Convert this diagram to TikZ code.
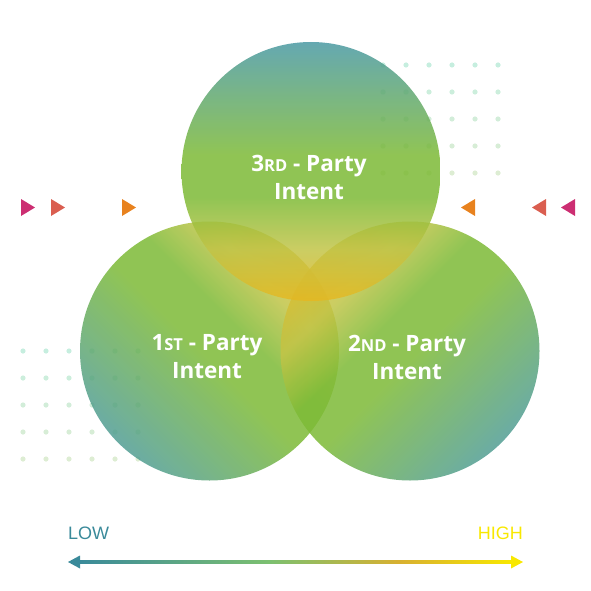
\documentclass[tikz,border=0pt]{standalone}
\usepackage{fontspec}
\setmainfont{Open Sans}
\newfontfamily\axisfont{Liberation Sans}
\definecolor{cteal}{rgb}{0.29,0.60,0.64}
\definecolor{cgreen}{rgb}{0.49,0.73,0.21}
\definecolor{cyel}{rgb}{0.76,0.77,0.28}
\definecolor{cgold}{rgb}{0.90,0.72,0.13}
\definecolor{dotA}{HTML}{C6EEDF}
\definecolor{dotB}{HTML}{DDEDD3}
\definecolor{tmag}{HTML}{CC2E72}
\definecolor{tcor}{HTML}{DA5E50}
\definecolor{torg}{HTML}{E8821E}
\definecolor{alow}{HTML}{3A8A9A}
\definecolor{agreen}{HTML}{7CC070}
\definecolor{agold}{HTML}{D8B030}
\definecolor{ahigh}{HTML}{F8E800}
\pgfdeclareverticalshading{topcirc}{100bp}{color(0bp)=(cgold); color(25bp)=(cgold); color(35bp)=(cyel); color(45bp)=(cgreen); color(53bp)=(cgreen); color(75bp)=(cteal); color(100bp)=(cteal)}
\pgfdeclareverticalshading{sidecirc}{100bp}{color(0bp)=(cteal); color(21bp)=(cteal); color(49bp)=(cgreen); color(57bp)=(cgreen); color(67bp)=(cyel); color(80bp)=(cgold); color(100bp)=(cgold)}
\pgfdeclarehorizontalshading{arrowsh}{100bp}{color(0bp)=(alow); color(25bp)=(alow); color(47bp)=(agreen); color(62bp)=(agold); color(75bp)=(ahigh); color(100bp)=(ahigh)}
\tikzset{
  circ/.style={fill opacity=0.85},
  lbl/.style={text=white, font=\bfseries\fontsize{22.5}{28}\selectfont, align=center},
  axislbl/.style={font=\axisfont\fontsize{18}{18}\selectfont, inner sep=0pt, anchor=base}
}
\newcommand{\sm}[1]{{\fontsize{16.5}{16}\selectfont #1}}
\begin{document}
\begin{tikzpicture}[x=1pt,y=-1pt]
\useasboundingbox (0,0) rectangle (591,591);
% dot grids
\foreach \r in {0,1,2,3,4}{
  \pgfmathsetmacro{\mix}{100-\r*25}
  \foreach \c in {0,...,5}{
    \fill[dotA!\mix!dotB] (383+\c*23, 65+\r*27) circle (2.6);
    \fill[dotA!\mix!dotB] (23+\c*23, 351+\r*27) circle (2.6);
  }
}
% circles
\shade[circ, shading=sidecirc, shading angle=-45] (209.5,351) circle (129.5);
\shade[circ, shading=sidecirc, shading angle=45] (410,351) circle (129.5);
\shade[circ, shading=topcirc] (311,171.5) circle (129.5);
% labels
\node[lbl] (third) at (309,177) {3\sm{RD} - Party\\Intent};
\node[lbl] (first) at (207,357) {1\sm{ST} - Party\\Intent};
\node[lbl] (second) at (407,357) {2\sm{ND} - Party\\Intent};
% triangles
\fill[tmag] (21,199) -- (35,207.5) -- (21,216) -- cycle;
\fill[tcor] (51,199) -- (65,207.5) -- (51,216) -- cycle;
\fill[torg] (122,199) -- (136,207.5) -- (122,216) -- cycle;
\fill[torg] (475,199) -- (461,207.5) -- (475,216) -- cycle;
\fill[tcor] (546,199) -- (532,207.5) -- (546,216) -- cycle;
\fill[tmag] (575,199) -- (561,207.5) -- (575,216) -- cycle;
% axis
\node[axislbl, text=alow, anchor=base west] (low) at (68,539) {LOW};
\node[axislbl, text=ahigh, anchor=base east] (high) at (523,539) {HIGH};
\node[axislbl, text=white] (title) at (300,539) {Intent Signal Intensity};
\coordinate (aL) at (68,562);
\coordinate (aR) at (523,562);
\shade[shading=arrowsh] (78,560.5) rectangle (513,563.5);
\fill[alow] (aL) -- (80,555.5) -- (80,568.5) -- cycle;
\fill[ahigh] (aR) -- (511,555.5) -- (511,568.5) -- cycle;
\end{tikzpicture}
\end{document}
